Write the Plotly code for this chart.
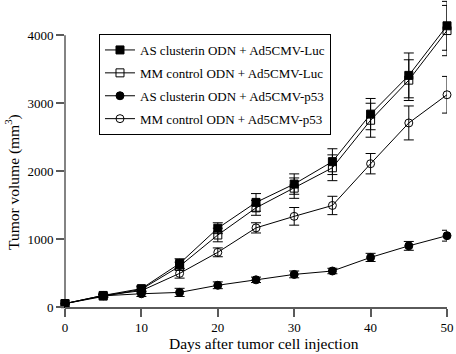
import plotly.graph_objects as go

days = [0, 5, 10, 15, 20, 25, 30, 35, 40, 45, 50]

as_luc = [50, 170, 270, 640, 1160, 1540, 1810, 2140, 2840, 3410, 4140]
as_luc_err = [0, 20, 40, 70, 80, 130, 150, 190, 230, 330, 360]

mm_luc = [50, 160, 260, 600, 1060, 1460, 1750, 2050, 2750, 3340, 4070]
mm_luc_err = [0, 20, 40, 60, 100, 110, 150, 190, 250, 300, 370]

as_p53 = [50, 165, 195, 215, 320, 400, 480, 530, 730, 900, 1050]
as_p53_err = [0, 20, 40, 60, 50, 40, 50, 40, 60, 65, 80]

mm_p53 = [50, 170, 240, 495, 805, 1165, 1335, 1495, 2110, 2710, 3125]
mm_p53_err = [0, 20, 40, 70, 65, 75, 130, 135, 150, 250, 270]

series_names = [
    "AS clusterin ODN + Ad5CMV-Luc",
    "MM control ODN + Ad5CMV-Luc",
    "AS clusterin ODN + Ad5CMV-p53",
    "MM control ODN + Ad5CMV-p53",
]
y_ticks = [0, 1000, 2000, 3000, 4000]
x_ticks = [0, 10, 20, 30, 40, 50]
x_title = "Days after tumor cell injection"
y_title = "Tumor volume (mm<sup>3</sup>)"

FONT = "Liberation Serif, Times New Roman, DejaVu Serif, serif"
AXIS_GREY = "#5a5a5a"
TITLE_SIZE = 15.5

specs = [
    (as_luc, as_luc_err, "square", 8),
    (mm_luc, mm_luc_err, "square-open", 8),
    (as_p53, as_p53_err, "circle", 8),
    (mm_p53, mm_p53_err, "circle-open", 8),
]

fig = go.Figure()
for i, (vals, errs, sym, sz) in enumerate(specs):
    fig.add_trace(go.Scatter(
        x=days, y=vals, name=series_names[i], legendgroup=f"g{i}",
        mode="lines+markers",
        line=dict(color="black", width=1),
        marker=dict(symbol=sym, size=sz, color="black", line=dict(color="black", width=1)),
        error_y=dict(type="data", array=errs, visible=True, color="black",
                     thickness=1, width=5),
        cliponaxis=False,
    ))

Y_TOP = 4520
# y axis line only spans 0..4000 as in the reference
fig.add_shape(type="line", xref="paper", yref="y", x0=0, x1=0, y0=0, y1=4000,
              line=dict(color=AXIS_GREY, width=1.5), layer="below")

# axis titles placed where the reference has them
fig.add_annotation(
    text=y_title, xref="paper", yref="paper",
    x=(12 - 65) / 382, y=(307 - 182) / 307,
    xanchor="center", yanchor="middle", textangle=-90, showarrow=False,
    font=dict(family=FONT, size=TITLE_SIZE, color="black"),
)
fig.add_annotation(
    text=x_title, xref="paper", yref="paper",
    x=(264 - 65) / 382, y=-(343 - 307) / 307,
    xanchor="center", yanchor="middle", showarrow=False,
    font=dict(family=FONT, size=TITLE_SIZE, color="black"),
)

fig.update_layout(
    width=456, height=354,
    margin=dict(l=65, r=9, t=0, b=47),
    paper_bgcolor="white", plot_bgcolor="white",
    font=dict(family=FONT, size=13, color="black"),
    showlegend=True,
    legend=dict(
        x=0.089, y=(307 - 34) / 307, xanchor="left", yanchor="top",
        bordercolor="black", borderwidth=1, bgcolor="white",
        font=dict(family=FONT, size=13, color="black"),
        traceorder="grouped", tracegroupgap=3,
    ),
    xaxis=dict(
        range=[0, 50], tickvals=x_ticks, showline=True, linecolor=AXIS_GREY, linewidth=1.5,
        ticks="outside", ticklen=8, tickcolor=AXIS_GREY, tickwidth=1.5,
        showgrid=False, zeroline=False, automargin=False,
    ),
    yaxis=dict(
        range=[0, Y_TOP], tickvals=y_ticks, showline=False,
        ticks="outside", ticklen=8, tickcolor=AXIS_GREY, tickwidth=1.5,
        showgrid=False, zeroline=False, automargin=False,
    ),
)

fig.write_html(
    "out.html",
    config={"displayModeBar": False},
    post_script="document.body.style.margin='0';document.body.style.overflow='hidden';",
)
